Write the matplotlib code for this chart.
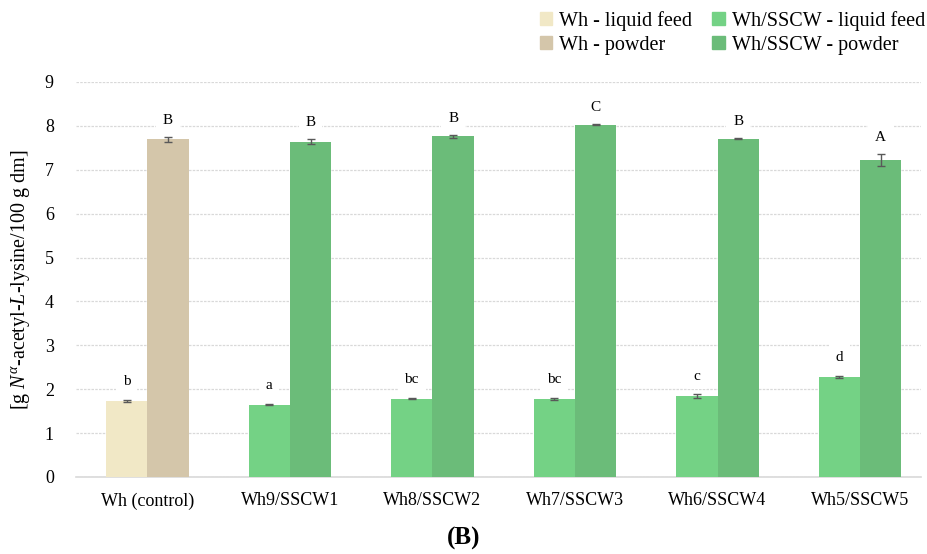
import matplotlib
matplotlib.use("Agg")
import matplotlib.pyplot as plt
import numpy as np

plt.rcParams["font.family"] = ["Liberation Serif", "DejaVu Serif"]
plt.rcParams["mathtext.fontset"] = "custom"
plt.rcParams["mathtext.rm"] = "Liberation Serif"
plt.rcParams["mathtext.it"] = "Liberation Serif:italic"

groups = ["Wh (control)", "Wh9/SSCW1", "Wh8/SSCW2", "Wh7/SSCW3", "Wh6/SSCW4", "Wh5/SSCW5"]
liquid = [1.73, 1.65, 1.78, 1.78, 1.84, 2.28]
liquid_err = [0.02, 0.02, 0.01, 0.02, 0.04, 0.03]
powder = [7.69, 7.64, 7.76, 8.03, 7.71, 7.22]
powder_err = [0.05, 0.06, 0.03, 0.02, 0.02, 0.14]
liquid_letters = ["b", "a", "bc", "bc", "c", "d"]
powder_letters = ["B", "B", "B", "C", "B", "A"]

c_wh_liq = "#F1E8C6"
c_wh_pow = "#D4C6AA"
c_ss_liq = "#74D285"
c_ss_pow = "#6BBC79"

fig = plt.figure(figsize=(9.27, 5.54), dpi=100)
ax = fig.add_axes([0.082, 0.139, 0.912, 0.713])

x = np.arange(len(groups))
w = 0.29
liq_colors = [c_wh_liq] + [c_ss_liq] * 5
pow_colors = [c_wh_pow] + [c_ss_pow] * 5

ax.bar(x - w / 2, liquid, w, color=liq_colors, zorder=3)
ax.bar(x + w / 2, powder, w, color=pow_colors, zorder=3)
ax.errorbar(x - w / 2, liquid, yerr=liquid_err, fmt="none", ecolor="#595959",
            elinewidth=1, capsize=3, zorder=4)
ax.errorbar(x + w / 2, powder, yerr=powder_err, fmt="none", ecolor="#595959",
            elinewidth=1, capsize=3, zorder=4)

for i in range(len(groups)):
    ax.text(x[i] - w / 2, liquid[i] + liquid_err[i] + 0.42, liquid_letters[i],
            ha="center", va="center", fontsize=11, zorder=5,
            bbox=dict(facecolor="white", edgecolor="none", pad=5))
    ax.text(x[i] + w / 2, powder[i] + powder_err[i] + 0.38, powder_letters[i],
            ha="center", va="center", fontsize=11, zorder=5,
            bbox=dict(facecolor="white", edgecolor="none", pad=5))

ax.set_xlim(-0.5, 5.43)
ax.set_ylim(0, 9)
ax.set_yticks(range(0, 10))
ax.set_xticks(x)
ax.set_xticklabels(groups)
ax.tick_params(axis="both", length=0, labelsize=13)
ax.tick_params(axis="x", pad=11)
ax.tick_params(axis="y", pad=16)
ax.yaxis.grid(True, color="#d9d9d9", linestyle=(0, (2, 1)), linewidth=0.9, zorder=0)
ax.set_axisbelow(True)
for s in ["top", "right", "left"]:
    ax.spines[s].set_visible(False)
ax.spines["bottom"].set_color("#d9d9d9")
ax.spines["bottom"].set_linewidth(1.2)

ax.set_ylabel(r"[g $N^{\alpha}$-acetyl-$L$-lysine/100 g dm]", fontsize=14.5, labelpad=9)

handles = [plt.Rectangle((0, 0), 1, 1, color=c) for c in [c_wh_liq, c_wh_pow, c_ss_liq, c_ss_pow]]
labels = ["Wh - liquid feed", "Wh - powder", "Wh/SSCW - liquid feed", "Wh/SSCW - powder"]
fig.legend(handles, labels, ncol=2, loc="upper left", bbox_to_anchor=(0.574, 0.995),
           frameon=False, fontsize=14.5, handlelength=0.6, handleheight=0.6,
           handletextpad=0.35, columnspacing=1.0, labelspacing=0.25,
           borderaxespad=0.0)

fig.text(0.5, 0.028, "(B)", ha="center", va="center", fontsize=18, fontweight="bold")

fig.savefig("out.png", dpi=100)
